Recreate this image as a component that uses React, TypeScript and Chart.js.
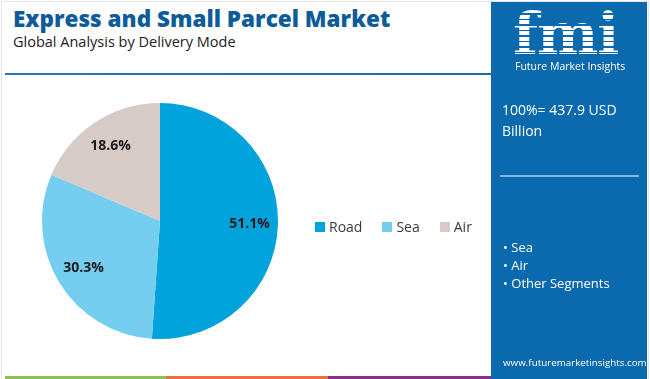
import React, { useEffect, useRef } from "react";
import { Chart, registerables } from "chart.js";

Chart.register(...registerables);

const categories = ["Road", "Sea", "Air"];
const shares = [51.1, 30.3, 18.6];
const sliceColors = ["#00a3db", "#75cdf0", "#d6cbc7"];
const otherSegments = ["Sea", "Air", "Other Segments"];
const totalLabel = "100%= 437.9 USD Billion";

const FONT = "'Open Sans', 'Noto Sans', sans-serif";

const labelPlugin = {
  id: "sliceLabels",
  afterDatasetsDraw(chart: any) {
    const ctx = chart.ctx;
    const meta = chart.getDatasetMeta(0);
    ctx.save();
    ctx.font = `bold 14px ${FONT}`;
    ctx.fillStyle = "#1a1a1a";
    ctx.textAlign = "center";
    ctx.textBaseline = "middle";
    meta.data.forEach((arc: any, i: number) => {
      const p = arc.getProps(["x", "y", "startAngle", "endAngle", "outerRadius"], true);
      const mid = (p.startAngle + p.endAngle) / 2;
      const r = p.outerRadius * 0.76;
      ctx.fillText(shares[i].toFixed(1) + "%", p.x + Math.cos(mid) * r, p.y + Math.sin(mid) * r);
    });
    ctx.restore();
  },
};

function PieChart() {
  const ref = useRef<HTMLCanvasElement | null>(null);
  useEffect(() => {
    if (!ref.current) return;
    const chart = new Chart(ref.current, {
      type: "pie",
      data: {
        labels: categories,
        datasets: [
          {
            data: shares,
            backgroundColor: sliceColors,
            borderWidth: 0,
          },
        ],
      },
      options: {
        animation: false,
        responsive: true,
        maintainAspectRatio: false,
        layout: { padding: { left: 42, right: 212, top: 23, bottom: 21 } },
        plugins: {
          legend: { display: false },
          tooltip: { enabled: false },
        },
      },
      plugins: [labelPlugin],
    });
    return () => chart.destroy();
  }, []);
  return (
    <div style={{ position: "absolute", left: 0, top: 80, width: 490, height: 280 }}>
      <canvas ref={ref} />
    </div>
  );
}

export default function App() {
  useEffect(() => {
    document.body.style.margin = "0";
  }, []);
  return (
    <div
      style={{
        position: "absolute",
        left: 0,
        top: 0,
        width: 650,
        height: 379,
        background: "#fff",
        overflow: "hidden",
        fontFamily: FONT,
      }}
    >
      <div
        style={{
          position: "absolute",
          left: 1,
          top: 1,
          width: 648,
          height: 378,
          borderLeft: "1px solid #e6e6e6",
          borderTop: "1px solid #e6e6e6",
          borderRight: "1px solid #e6e6e6",
          boxSizing: "border-box",
        }}
      />
      <div
        style={{
          position: "absolute",
          left: 13,
          top: 3,
          fontSize: 22.5,
          fontWeight: 800,
          color: "#0d5c99",
          whiteSpace: "nowrap",
          letterSpacing: 0,
        }}
      >
        Express and Small Parcel Market
      </div>
      <div
        style={{
          position: "absolute",
          left: 13,
          top: 32,
          fontSize: 14.5,
          color: "#222",
          whiteSpace: "nowrap",
        }}
      >
        Global Analysis by Delivery Mode
      </div>
      <div
        style={{
          position: "absolute",
          left: 5,
          top: 73,
          width: 486,
          height: 2,
          background: "linear-gradient(90deg,#2c77b3,#1b6aa8)",
        }}
      />
      <PieChart />
      <div
        style={{
          position: "absolute",
          left: 315,
          top: 217,
          display: "flex",
          alignItems: "center",
          fontSize: 14,
          color: "#3a3a3a",
          whiteSpace: "nowrap",
        }}
      >
        {categories.map((c, i) => (
          <div key={c} style={{ display: "flex", alignItems: "center", marginRight: 20 }}>
            <span
              style={{
                display: "inline-block",
                width: 10,
                height: 10,
                background: sliceColors[i],
                marginRight: 4,
              }}
            />
            <span>{c}</span>
          </div>
        ))}
      </div>
      <div
        style={{
          position: "absolute",
          left: 491,
          top: 2,
          width: 156,
          height: 377,
          background: "#0b69ae",
          color: "#fff",
        }}
      >
        <div
          style={{
            position: "absolute",
            left: 22,
            top: 2,
            fontSize: 58,
            fontWeight: 900,
            fontFamily: "'DejaVu Serif', serif",
            lineHeight: "60px",
            letterSpacing: -1,
            background:
              "repeating-linear-gradient(180deg,#ffffff 0px,#ffffff 4px,#0b69ae 4px,#0b69ae 5.5px)",
            WebkitBackgroundClip: "text",
            backgroundClip: "text",
            color: "transparent",
          }}
        >
          fmi
        </div>
        <div
          style={{
            position: "absolute",
            left: 24,
            top: 57,
            fontSize: 10.5,
            whiteSpace: "nowrap",
          }}
        >
          Future Market Insights
        </div>
        <div
          style={{
            position: "absolute",
            left: 11,
            top: 97,
            width: 140,
            fontSize: 14,
            lineHeight: "21px",
          }}
        >
          {totalLabel}
        </div>
        <div
          style={{
            position: "absolute",
            left: 9,
            top: 173,
            width: 139,
            height: 2,
            background: "#7fb9e3",
          }}
        />
        <div style={{ position: "absolute", left: 12, top: 236, fontSize: 13, lineHeight: "18px" }}>
          {otherSegments.map((s) => (
            <div key={s}>{"\u2022 " + s}</div>
          ))}
        </div>
        <div
          style={{
            position: "absolute",
            left: 12,
            top: 354,
            fontSize: 9.8,
            whiteSpace: "nowrap",
          }}
        >
          www.futuremarketinsights.com
        </div>
      </div>
      <div style={{ position: "absolute", left: 5, top: 376, width: 161, height: 3, background: "#8cc152" }} />
      <div style={{ position: "absolute", left: 166, top: 376, width: 162, height: 3, background: "#e9713a" }} />
      <div style={{ position: "absolute", left: 328, top: 376, width: 163, height: 3, background: "#8c3087" }} />
    </div>
  );
}
